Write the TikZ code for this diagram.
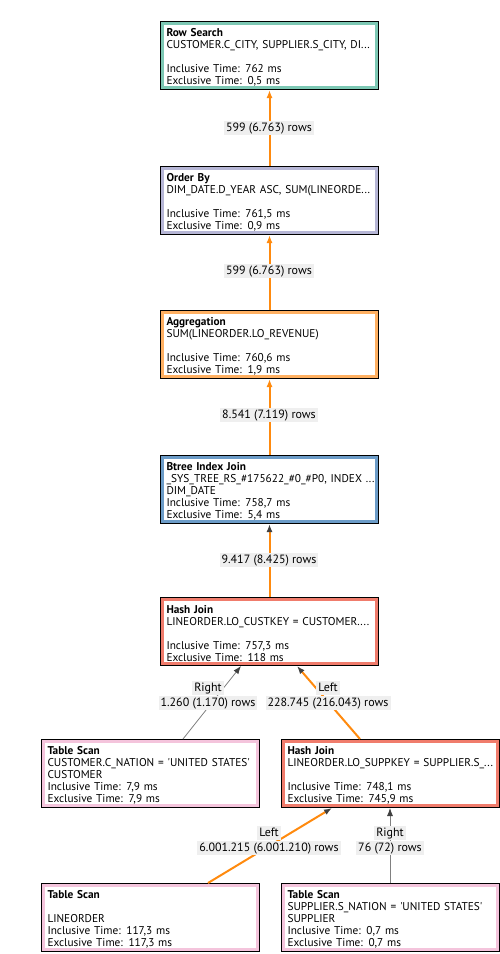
\documentclass[tikz,border=0pt]{standalone}
\usepackage{fontspec}
\setmainfont{PT Sans}
\usetikzlibrary{arrows.meta}

\definecolor{rowsearch}{HTML}{7DC8B4}
\definecolor{orderby}{HTML}{B6B6D6}
\definecolor{aggr}{HTML}{FFB062}
\definecolor{btree}{HTML}{6C9CC8}
\definecolor{hashjoin}{HTML}{F07C6C}
\definecolor{tablescan}{HTML}{F4C4DC}
\definecolor{flowor}{HTML}{FF8A0E}
\definecolor{tipgray}{HTML}{404040}
\definecolor{labelbg}{HTML}{EFEFEF}

\begin{document}
\begin{tikzpicture}[x=1pt, y=-1pt, font=\fontsize{11.3}{11.9}\selectfont]
        \tikzset{op/.style = {draw=black, line width=1pt, fill=white, anchor=north west,
                   minimum width=218pt, minimum height=68pt, text width=206pt, align=left,
                   inner xsep=6pt, inner ysep=0pt,
                   execute at begin node={\rule{0pt}{12pt}},
                   path picture={\draw[#1, line width=7pt] (path picture bounding box.south west)
                     rectangle (path picture bounding box.north east);}},
                 flow/.style = {draw=flowor, line width=2pt, -{Latex[length=8pt,width=6pt]}},
                 flowdark/.style = {flow, -{Latex[length=8pt,width=6pt,color=tipgray]}},
                 probe/.style = {draw=gray, line width=0.8pt, -{Latex[length=8pt,width=6pt,color=tipgray]}},
                 lbl/.style = {fill=labelbg, font=\fontsize{12}{12}\selectfont, inner xsep=2pt, inner ysep=1.5pt, text height=8.5pt, text depth=2.5pt}}
        \useasboundingbox (0,0) rectangle (500,954);

        \node[op=rowsearch] (rs) at (160,21) {\textbf{Row Search}\\CUSTOMER.C\_CITY, SUPPLIER.S\_CITY, DI...\\[11.9pt]Inclusive Time: 762 ms\\Exclusive Time: 0,5 ms};
        \node[op=orderby] (ob) at (160,166) {\textbf{Order By}\\DIM\_DATE.D\_YEAR ASC, SUM(LINEORDE...\\[11.9pt]Inclusive Time: 761,5 ms\\Exclusive Time: 0,9 ms};
        \node[op=aggr] (ag) at (160,310) {\textbf{Aggregation}\\SUM(LINEORDER.LO\_REVENUE)\\[11.9pt]Inclusive Time: 760,6 ms\\Exclusive Time: 1,9 ms};
        \node[op=btree] (bt) at (160,455) {\textbf{Btree Index Join}\\\mbox{\_SYS\_TREE\_RS\_\#175622\_\#0\_\#P0, INDEX ...}\\DIM\_DATE\\Inclusive Time: 758,7 ms\\Exclusive Time: 5,4 ms};
        \node[op=hashjoin] (hj1) at (160,597) {\textbf{Hash Join}\\LINEORDER.LO\_CUSTKEY = CUSTOMER....\\[11.9pt]Inclusive Time: 757,3 ms\\Exclusive Time: 118 ms};

        \node[op=tablescan] (tsc) at (41,739) {\textbf{Table Scan}\\\mbox{CUSTOMER.C\_NATION = \textquotesingle UNITED STATES\textquotesingle}\\CUSTOMER\\Inclusive Time: 7,9 ms\\Exclusive Time: 7,9 ms};
        \node[op=hashjoin] (hj2) at (281,739) {\textbf{Hash Join}\\\mbox{LINEORDER.LO\_SUPPKEY = SUPPLIER.S\_...}\\[11.9pt]Inclusive Time: 748,1 ms\\Exclusive Time: 745,9 ms};

        \node[op=tablescan] (tsl) at (41,883) {\textbf{Table Scan}\\[11.9pt]LINEORDER\\Inclusive Time: 117,3 ms\\Exclusive Time: 117,3 ms};
        \node[op=tablescan] (tss) at (281,883) {\textbf{Table Scan}\\\mbox{SUPPLIER.S\_NATION = \textquotesingle UNITED STATES\textquotesingle}\\SUPPLIER\\Inclusive Time: 0,7 ms\\Exclusive Time: 0,7 ms};

        % main chain
        \draw[flow] (ob) -- (rs);
        \draw[flow] (ag) -- (ob);
        \draw[flow] (bt) -- (ag);
        \draw[flowdark] (hj1) -- (bt);

        % join inputs
        \draw[probe] ([xshift=-77pt]tsc.north east) -- ([xshift=81pt]hj1.south west);
        \draw[flowdark] ([xshift=79pt]hj2.north west) -- ([xshift=137pt]hj1.south west);
        \draw[flowdark] ([xshift=167pt]tsl.north west) -- ([xshift=51pt]hj2.south west);
        \draw[probe] ([xshift=109pt]tss.north west) -- ([xshift=109pt]hj2.south west);

        \node[lbl] (r1) at (269,128) {599 (6.763) rows};
        \node[lbl] (r2) at (269,271) {599 (6.763) rows};
        \node[lbl] (r3) at (269,415) {8.541 (7.119) rows};
        \node[lbl] (r4) at (269,560) {9.417 (8.425) rows};

        \node[lbl] (s5) at (208,688) {Right};
        \node[lbl] (r5) at (208,703) {1.260 (1.170) rows};
        \node[lbl] (s6) at (328,688) {Left};
        \node[lbl] (r6) at (328,703) {228.745 (216.043) rows};
        \node[lbl] (s7) at (269,833) {Left};
        \node[lbl] (r7) at (269,848) {6.001.215 (6.001.210) rows};
        \node[lbl] (s8) at (390,833) {Right};
        \node[lbl] (r8) at (390,848) {76 (72) rows};
\end{tikzpicture}
\end{document}
